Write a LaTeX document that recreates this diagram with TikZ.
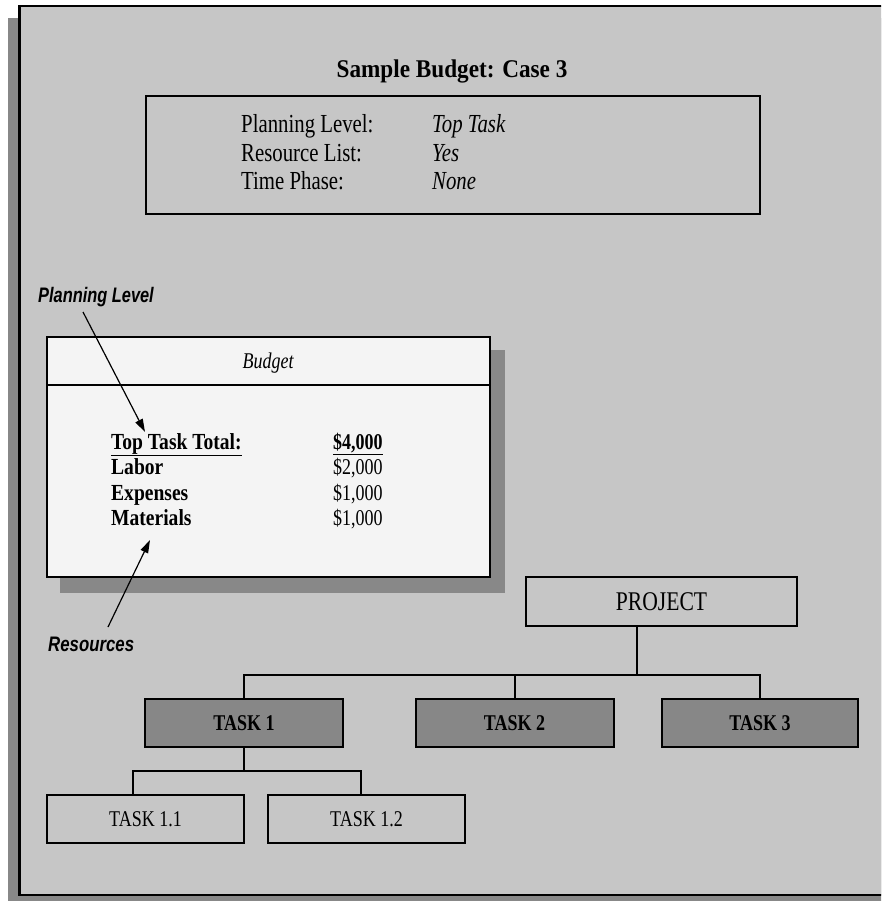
\documentclass[tikz,border=0pt]{standalone}
\usepackage{fontspec}
\setmainfont{Liberation Serif}
\newfontfamily\lblfamily{Liberation Sans}
\usepackage{graphicx}
\usetikzlibrary{arrows.meta}
\definecolor{panelgray}{HTML}{C6C6C6}
\definecolor{shadowgray}{HTML}{888888}
\definecolor{taskfill}{HTML}{878787}
\definecolor{paper}{HTML}{F4F4F4}
\newcommand\sqz[1]{\scalebox{0.8}[1]{#1}}
\newcommand\sqzb[1]{\scalebox{0.85}[1]{#1}}
\newcommand\fs[1]{\fontsize{#1}{#1}\selectfont}
\newcommand\lblfont{\lblfamily\bfseries\itshape}
\begin{document}
\begin{tikzpicture}[x=1pt,y=-1pt,
  box/.style={draw=black, line width=2pt, inner sep=0pt},
  txt/.style={anchor=base west, inner sep=0pt},
  task/.style={box, fill=taskfill, minimum width=198pt, minimum height=48pt, font=\fs{22.5}\bfseries},
  sub/.style={box, fill=panelgray, minimum width=197pt, minimum height=48pt, font=\fs{22.5}},
  link/.style={line width=2pt},
  pointer/.style={line width=1.2pt, -{Triangle[length=13pt,width=8pt]}},
  label/.style={anchor=base west, inner sep=0pt, font=\fs{21}\lblfont}]
\useasboundingbox (0,0) rectangle (881,901);
\clip (0,0) rectangle (881,901);
\fill[white] (0,0) rectangle (881,901);
% outer panel
\fill[shadowgray] (8,18) rectangle (895,905);
\draw[line width=2.5pt, fill=panelgray] (19.5,6) rectangle (900,895);
% title
\node[anchor=base, inner sep=0pt, font=\fs{25.5}\bfseries] (title) at (452,78) {\scalebox{0.91}[1]{Sample Budget: Case 3}};
% settings box
\node[box, minimum width=614pt, minimum height=118pt] (cfg) at (453,155) {};
\node[txt, font=\fs{26}] (k1) at (241,133) {\sqz{Planning Level:}};
\node[txt, font=\fs{26}] (k2) at (241,162) {\sqz{Resource List:}};
\node[txt, font=\fs{26}] (k3) at (241,190) {\sqz{Time Phase:}};
\node[txt, font=\fs{26}\itshape] (v1) at (432,133) {\sqz{Top Task}};
\node[txt, font=\fs{26}\itshape] (v2) at (432,162) {\sqz{Yes}};
\node[txt, font=\fs{26}\itshape] (v3) at (432,190) {\sqz{None}};
% budget box
\fill[shadowgray] (60,350) rectangle (505,593);
\node[box, fill=paper, minimum width=443pt, minimum height=240pt] (budget) at (268.5,457) {};
\draw[link] (47,385) -- (490,385);
\node[anchor=base, inner sep=0pt, font=\fs{22.5}\itshape] (bh) at (268,368) {\sqz{Budget}};
\node[txt, font=\fs{23}\bfseries] (r1) at (111,449) {\sqzb{\underline{Top Task Total:}}};
\node[txt, font=\fs{23}\bfseries] (r2) at (111,474) {\sqzb{Labor}};
\node[txt, font=\fs{23}\bfseries] (r3) at (111,500) {\sqzb{Expenses}};
\node[txt, font=\fs{23}\bfseries] (r4) at (111,525) {\sqzb{Materials}};
\node[txt, font=\fs{22.5}\bfseries] (m1) at (333,449) {\sqz{\underline{\$4,000}}};
\node[txt, font=\fs{22.5}] (m2) at (333,474) {\sqz{\$2,000}};
\node[txt, font=\fs{22.5}] (m3) at (333,500) {\sqz{\$1,000}};
\node[txt, font=\fs{22.5}] (m4) at (333,525) {\sqz{\$1,000}};
% callouts
\node[label] (pl) at (38,302) {\scalebox{0.78}[1]{Planning Level}};
\node[label] (rs) at (48,651) {\sqz{Resources}};
\coordinate (a1s) at (83,312);
\coordinate (a1e) at (145,432);
\coordinate (a2s) at (108,627);
\coordinate (a2e) at (150,540);
\draw[pointer] (a1s) -- (a1e);
\draw[pointer] (a2s) -- (a2e);
% tree
\node[box, fill=panelgray, minimum width=271pt, minimum height=49pt, font=\fs{27}] (proj) at (661.5,601.5) {\sqz{PROJECT}};
\node[task] (t1) at (244,723) {\sqz{TASK 1}};
\node[task] (t2) at (514.5,723) {\sqz{TASK 2}};
\node[task, minimum width=196pt] (t3) at (760,723) {\sqz{TASK 3}};
\node[sub] (s11) at (145.5,819) {\sqz{TASK 1.1}};
\node[sub] (s12) at (366.5,819) {\sqz{TASK 1.2}};
\coordinate (pj) at ([xshift=-24.5pt]proj.south);
\coordinate (bus) at (637,675);
\draw[link] (pj) -- (bus);
\draw[link] (t1.north) |- (bus) -| (t3.north);
\draw[link] (t2.north) -- (t2.north |- bus);
\coordinate (sbus) at (244,771);
\draw[link] (t1.south) -- (sbus);
\draw[link] ([xshift=-12.5pt]s11.north) |- (sbus) -| ([xshift=-5.5pt]s12.north);
\end{tikzpicture}
\end{document}
